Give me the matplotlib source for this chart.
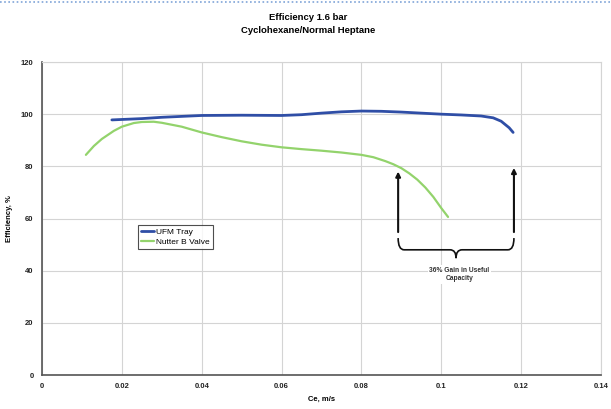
import matplotlib.pyplot as plt
from matplotlib.path import Path
from matplotlib.patches import PathPatch
from matplotlib.lines import Line2D

plt.rcParams['font.family'] = ['Liberation Sans', 'DejaVu Sans']

# UFM Tray
ufm_x = [0.0175, 0.025, 0.03, 0.04, 0.05, 0.06, 0.065, 0.07, 0.075, 0.08, 0.085,
         0.09, 0.10, 0.105, 0.11, 0.113, 0.115, 0.117, 0.118]
ufm_y = [97.8, 98.3, 98.8, 99.5, 99.6, 99.5, 99.8, 100.4, 100.9, 101.2, 101.1,
         100.8, 100.0, 99.7, 99.3, 98.6, 97.3, 94.8, 93.0]

# Nutter B Valve
nutter_x = [0.011, 0.013, 0.015, 0.018, 0.02, 0.023, 0.025, 0.028, 0.03, 0.035, 0.04,
            0.045, 0.05, 0.055, 0.06, 0.065, 0.07, 0.075, 0.08, 0.083, 0.086, 0.088,
            0.09, 0.092, 0.094, 0.096, 0.098, 0.10, 0.1017]
nutter_y = [84.4, 87.8, 90.5, 93.6, 95.2, 96.6, 97.0, 97.1, 96.7, 95.2, 93.0,
            91.2, 89.6, 88.3, 87.3, 86.6, 86.0, 85.3, 84.4, 83.5, 82.0, 80.8,
            79.3, 77.3, 74.9, 71.9, 68.3, 64.0, 60.6]

x_ticks = [0, 0.02, 0.04, 0.06, 0.08, 0.1, 0.12, 0.14]
x_ticklabels = ['0', '0.02', '0.04', '0.06', '0.08', '0.1', '0.12', '0.14']
y_ticks = [0, 20, 40, 60, 80, 100, 120]

# capacity markers
left_cap, right_cap = 0.0892, 0.1182
arrow_base = 54.8
left_tip, right_tip = 78.0, 79.4
gain_text = '36% Gain in Useful\nCapacity'

fig = plt.figure(figsize=(6.11, 4.09), dpi=100)
ax = fig.add_axes([0.0687, 0.0831, 0.9149, 0.7653])

ax.plot(ufm_x, ufm_y, color='#2f4ea6', lw=2.0, label='UFM Tray', solid_capstyle='round')
ax.plot(nutter_x, nutter_y, color='#93d36c', lw=1.6, label='Nutter B Valve', solid_capstyle='round')

ax.set_xlim(0, 0.14)
ax.set_ylim(0, 120)
ax.set_xticks(x_ticks)
ax.set_xticklabels(x_ticklabels)
ax.set_yticks(y_ticks)
ax.grid(True, color='#d4d4d4', lw=0.8)
ax.set_axisbelow(True)
ax.tick_params(length=0, labelsize=5.5, pad=6, colors='#222222')
for lab in ax.get_xticklabels() + ax.get_yticklabels():
    lab.set_fontweight('bold')
for s in ['left', 'bottom']:
    ax.spines[s].set_color('#555555')
    ax.spines[s].set_linewidth(1.2)
for s in ['top', 'right']:
    ax.spines[s].set_color('#d4d4d4')
    ax.spines[s].set_linewidth(0.8)

ax.set_xlabel('Ce, m/s', fontsize=5.5, fontweight='bold', labelpad=4)
ax.set_ylabel('Efficiency, %', fontsize=5.5, fontweight='bold', labelpad=6)

leg = ax.legend(loc='upper left', bbox_to_anchor=(0.172, 0.478), fontsize=6,
                frameon=True, fancybox=False, edgecolor='#222222', handlelength=1.6,
                handletextpad=0.3, borderpad=0.3, labelspacing=0.3, borderaxespad=0)
leg.get_frame().set_linewidth(0.8)

# arrows
for xc, tip in [(left_cap, left_tip), (right_cap, right_tip)]:
    ax.annotate('', xy=(xc, tip), xytext=(xc, arrow_base),
                arrowprops=dict(arrowstyle='-|>', color='#111111', lw=1.5,
                                mutation_scale=7, shrinkA=0, shrinkB=0))

# brace below arrows
mid = (left_cap + right_cap) / 2
top, bot, dip = 52.5, 48.0, 44.8
r = 0.0015
verts = [(left_cap, top), (left_cap, bot), (left_cap + r, bot),
         (mid - r, bot), (mid, bot), (mid, dip),
         (mid, bot), (mid + r, bot), (right_cap - r, bot),
         (right_cap, bot), (right_cap, top)]
codes = [Path.MOVETO, Path.CURVE3, Path.CURVE3,
         Path.LINETO, Path.CURVE3, Path.CURVE3,
         Path.CURVE3, Path.CURVE3, Path.LINETO,
         Path.CURVE3, Path.CURVE3]
ax.add_patch(PathPatch(Path(verts, codes), fill=False, edgecolor='#111111', lw=1.2))

ax.text(mid + 0.0008, 38.5, gain_text, fontsize=4.8, fontweight='bold', ha='center',
        va='center', color='#333333', linespacing=1.3,
        bbox=dict(facecolor='white', edgecolor='none', pad=1))

fig.text(0.504, 0.957, 'Efficiency 1.6 bar', ha='center', va='center',
         fontsize=6.8, fontweight='bold')
fig.text(0.504, 0.926, 'Cyclohexane/Normal Heptane', ha='center', va='center',
         fontsize=6.8, fontweight='bold')

# dotted scan border along the top
fig.add_artist(Line2D([0, 1], [0.996, 0.996], transform=fig.transFigure,
                      color='#7fa4d8', lw=1.2, ls=(0, (1, 1.5))))

fig.savefig('out.png', dpi=100)
